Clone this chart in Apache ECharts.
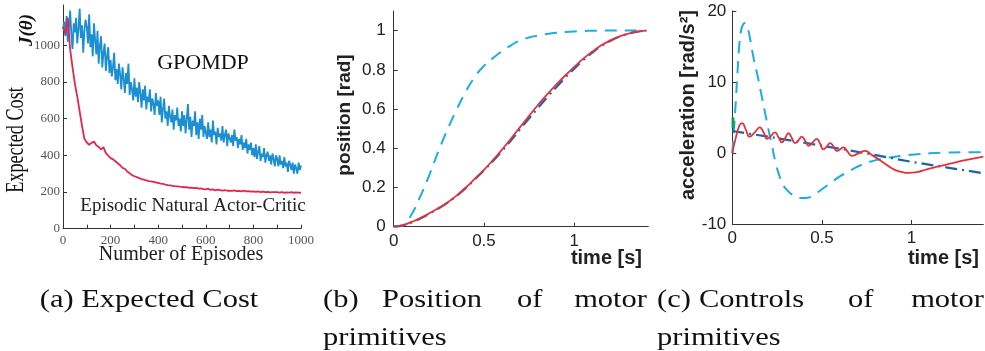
<!DOCTYPE html>
<html>
<head>
<meta charset="utf-8">
<script src="https://cdn.jsdelivr.net/npm/echarts@6/dist/echarts.min.js"></script>
<style>
  html, body { margin: 0; padding: 0; background: #fff; }
  #main { width: 985px; height: 351px; }
</style>
</head>
<body>
<div id="main"></div>
<script>
// (a) expected cost, GPOMDP sampled every 5 episodes, eNAC every 10
var gpomdpStep = 5;
var gpomdpCost = [
  1090,1130,1050,1160,1020,1100,1190,1060,980,1120,1070,1150,1010,1090,1200,1040,1110,960,1080,1140,
  1100,1010,1170,990,1060,940,1120,1030,950,1080,900,1000,1050,880,960,1010,860,940,990,850,
  920,830,880,960,810,870,790,900,840,760,880,820,740,850,790,900,730,800,760,700,
  820,720,770,690,800,740,660,760,700,780,650,720,690,760,640,710,680,620,740,670,
  700,620,720,580,650,710,600,640,560,670,610,580,650,540,620,590,660,560,600,530,
  640,560,620,520,600,680,540,610,500,590,560,640,510,580,490,600,540,620,500,560,
  560,490,580,500,540,470,590,510,530,460,550,500,520,480,560,470,510,540,450,520,
  530,470,510,450,540,480,500,440,490,460,510,430,470,440,490,410,460,430,470,400,
  440,390,460,380,420,450,370,410,390,440,360,400,420,370,400,350,410,380,340,400,
  380,340,400,350,370,330,390,340,360,310,370,350,320,360,300,350,330,300,360,320,345
];
var enacStep = 10;
var enacCost = [
  1100,1060,1150,980,880,790,720,640,560,490,
  470,458,468,476,455,446,432,445,412,398,
  385,378,368,357,346,332,327,312,302,292,
  286,281,276,271,268,263,260,258,255,252,
  250,246,245,241,238,236,234,232,231,229,
  228,226,227,223,224,221,222,219,220,216,
  215,218,212,214,209,213,210,208,211,207,
  208,206,209,205,206,204,207,203,205,202,
  204,201,203,200,202,199,201,198,200,199,
  199,197,200,196,198,197,199,196,198,197,196
];
var costTicks = [0,200,400,600,800,1000];

// (b) position of motor primitives
var tPos = [0,0.05,0.1,0.15,0.2,0.25,0.3,0.35,0.4,0.45,0.5,0.55,0.6,0.65,0.7,0.75,0.8,0.85,0.9,0.95,1.0,1.05,1.1,1.15,1.2,1.25,1.3,1.35,1.4];
var posFast = [0,0.005,0.065,0.16,0.27,0.39,0.5,0.6,0.69,0.765,0.82,0.86,0.895,0.925,0.95,0.965,0.975,0.983,0.989,0.993,0.996,0.998,0.999,1,1,1,1,1,1];
var posLinear = [0,0.006,0.022,0.043,0.068,0.094,0.124,0.158,0.198,0.242,0.287,0.335,0.386,0.44,0.497,0.553,0.607,0.66,0.711,0.76,0.806,0.85,0.888,0.921,0.948,0.969,0.984,0.994,1.0];
var posLearned = [0,0.008,0.025,0.045,0.07,0.095,0.125,0.16,0.2,0.245,0.29,0.34,0.393,0.45,0.508,0.565,0.622,0.675,0.724,0.771,0.815,0.857,0.893,0.925,0.95,0.97,0.985,0.995,1.0];

// (c) controls of motor primitives
var tAccFast = [0,0.01,0.02,0.03,0.04,0.05,0.06,0.07,0.08,0.09,0.1,0.12,0.14,0.16,0.18,0.2,0.22,0.24,0.26,0.28,0.3,0.33,0.36,0.39,0.42,0.45,0.5,0.55,0.6,0.65,0.7,0.75,0.8,0.85,0.9,0.95,1.0,1.1,1.2,1.3,1.4];
var accFast = [0,3.5,7.5,11.8,15.5,17.4,18.1,18.3,18.1,17.2,16.0,13.2,11.0,8.5,6.0,3.5,1.2,-1.2,-3.0,-4.3,-5.1,-5.8,-6.2,-6.35,-6.3,-6.0,-5.1,-4.2,-3.3,-2.6,-1.9,-1.4,-1.0,-0.75,-0.55,-0.38,-0.25,-0.05,0.05,0.1,0.1];
var tAccLinear = [0,0.2,0.4,0.6,0.8,1.0,1.2,1.4];
var accLinear = [3.1,2.3,1.45,0.6,-0.3,-1.25,-2.05,-2.85];
var tAccLearned = [0,0.02,0.04,0.055,0.075,0.097,0.125,0.153,0.175,0.194,0.215,0.238,0.258,0.276,0.295,0.313,0.332,0.35,0.37,0.387,0.407,0.426,0.448,0.471,0.49,0.508,0.527,0.545,0.565,0.583,0.6,0.62,0.643,0.666,0.7,0.74,0.78,0.84,0.9,0.95,0.98,1.03,1.085,1.15,1.215,1.3,1.4];
var accLearned = [0,2.2,3.9,4.2,3.3,2.3,2.9,3.6,2.9,2.0,2.4,2.9,2.2,1.5,2.1,2.8,2.1,1.4,1.8,2.3,1.7,1.0,1.5,2.0,1.3,0.5,0.9,1.4,0.9,0.3,0.5,0.8,0.2,-0.4,-0.1,0.3,-0.3,-1.3,-2.3,-2.7,-2.8,-2.7,-2.3,-1.9,-1.5,-1.0,-0.5];
var tStart = [0.004,0.004];
var accStart = [3.5,5];

function pairs(xs, ys) {
  var out = [];
  for (var i = 0; i < ys.length; i++) out.push([xs[i], ys[i]]);
  return out;
}
function stepPairs(step, ys) {
  var out = [];
  for (var i = 0; i < ys.length; i++) out.push([i * step, ys[i]]);
  return out;
}

var serif = 'Liberation Serif';
var sans = 'Liberation Sans';
var axisLine = { show: true, onZero: false, lineStyle: { color: '#333', width: 1 } };
var tick = { inside: true, length: 4, lineStyle: { color: '#333' } };

function caption(text, x, y, align) {
  return { type: 'text', x: x, y: y, scaleX: 1.22,
    style: { text: text, font: '25px ' + serif, fill: '#111', align: align, verticalAlign: 'middle' } };
}

var chart = echarts.init(document.getElementById('main'));
chart.setOption({
  animation: false,
  backgroundColor: '#fff',
  grid: [
    { left: 63, top: 5, width: 238, height: 223.7 },
    { left: 393.7, top: 11, width: 254.6, height: 215.7 },
    { left: 732.3, top: 11, width: 251, height: 213 }
  ],
  xAxis: [
    {
      gridIndex: 0, type: 'value', min: 0, max: 1000, interval: 100,
      axisLine: axisLine, splitLine: { show: false }, axisTick: tick,
      axisLabel: { margin: 5, fontFamily: serif, fontSize: 13, color: '#555',
        formatter: function (v) { return v % 200 === 0 ? String(v) : ''; } }
    },
    {
      gridIndex: 1, type: 'value', min: 0, max: 1.41, interval: 0.5,
      axisLine: axisLine, splitLine: { show: false }, axisTick: tick,
      axisLabel: { margin: 6, fontFamily: sans, fontSize: 17, color: '#222', showMaxLabel: false }
    },
    {
      gridIndex: 2, type: 'value', min: 0, max: 1.4, interval: 0.5,
      axisLine: axisLine, splitLine: { show: false }, axisTick: tick,
      axisLabel: { margin: 6, fontFamily: sans, fontSize: 17, color: '#222', showMaxLabel: false }
    }
  ],
  yAxis: [
    {
      gridIndex: 0, type: 'value', min: 0, max: 1220, interval: 200,
      axisLine: axisLine, splitLine: { show: false },
      axisTick: { inside: true, length: 4, customValues: costTicks, lineStyle: { color: '#333' } },
      axisLabel: { margin: 3, fontFamily: serif, fontSize: 13, color: '#555', customValues: costTicks,
        formatter: function (v) { return v <= 1000 ? String(v) : ''; } }
    },
    {
      gridIndex: 1, type: 'value', min: 0, max: 1.1, interval: 0.2,
      axisLine: axisLine, splitLine: { show: false }, axisTick: tick,
      axisLabel: { margin: 8, fontFamily: sans, fontSize: 17, color: '#222', showMaxLabel: false }
    },
    {
      gridIndex: 2, type: 'value', min: -10, max: 20, interval: 10,
      axisLine: axisLine, splitLine: { show: false }, axisTick: tick,
      axisLabel: { margin: 6, fontFamily: sans, fontSize: 17, color: '#222' }
    }
  ],
  series: [
    { type: 'line', xAxisIndex: 0, yAxisIndex: 0, showSymbol: false,
      lineStyle: { color: '#1b8fd2', width: 1.8 }, data: stepPairs(gpomdpStep, gpomdpCost) },
    { type: 'line', xAxisIndex: 0, yAxisIndex: 0, showSymbol: false,
      lineStyle: { color: '#e5254e', width: 1.8 }, data: stepPairs(enacStep, enacCost) },

    { type: 'line', xAxisIndex: 1, yAxisIndex: 1, showSymbol: false, smooth: true,
      lineStyle: { color: '#1aaee5', width: 2, type: [12, 8] }, data: pairs(tPos, posFast) },
    { type: 'line', xAxisIndex: 1, yAxisIndex: 1, showSymbol: false, smooth: true,
      lineStyle: { color: '#1c63ad', width: 2.2, type: [12, 5, 2, 5] }, data: pairs(tPos, posLinear) },
    { type: 'line', xAxisIndex: 1, yAxisIndex: 1, showSymbol: false, smooth: true,
      lineStyle: { color: '#e8303a', width: 1.8 }, data: pairs(tPos, posLearned) },

    { type: 'line', xAxisIndex: 2, yAxisIndex: 2, showSymbol: false, smooth: true,
      lineStyle: { color: '#1aaee5', width: 2, type: [12, 8] }, data: pairs(tAccFast, accFast) },
    { type: 'line', xAxisIndex: 2, yAxisIndex: 2, showSymbol: false,
      lineStyle: { color: '#1c63ad', width: 2.2, type: [12, 5, 2, 5] }, data: pairs(tAccLinear, accLinear) },
    { type: 'line', xAxisIndex: 2, yAxisIndex: 2, showSymbol: false, smooth: true,
      lineStyle: { color: '#e8303a', width: 1.8 }, data: pairs(tAccLearned, accLearned) },
    { type: 'line', xAxisIndex: 2, yAxisIndex: 2, showSymbol: false,
      lineStyle: { color: '#1a9a5a', width: 3 }, data: pairs(tStart, accStart) }
  ],
  graphic: [
    // panel (a) texts
    { type: 'text', x: 16, y: 140, rotation: Math.PI / 2, scaleX: 0.7,
      style: { text: 'Expected Cost', font: '26px ' + serif, fill: '#111', align: 'center', verticalAlign: 'middle' } },
    { type: 'text', x: 27, y: 30, rotation: Math.PI / 2,
      style: { text: 'J(θ)', font: 'italic bold 19px ' + serif, fill: '#111', align: 'center', verticalAlign: 'middle' } },
    { type: 'text', x: 181, y: 255,
      style: { text: 'Number of Episodes', font: '20px ' + serif, fill: '#222', align: 'center', verticalAlign: 'middle' } },
    { type: 'text', x: 203, y: 63,
      style: { text: 'GPOMDP', font: '22px ' + serif, fill: '#111', align: 'center', verticalAlign: 'middle' } },
    { type: 'text', x: 193, y: 206,
      style: { text: 'Episodic Natural Actor-Critic', font: '19px ' + serif, fill: '#222', align: 'center', verticalAlign: 'middle' } },

    // panel (b) texts
    { type: 'text', x: 345, y: 115, rotation: Math.PI / 2,
      style: { text: 'position [rad]', font: 'bold 19px ' + sans, fill: '#222', align: 'center', verticalAlign: 'middle' } },
    { type: 'text', x: 642, y: 258,
      style: { text: 'time [s]', font: 'bold 20px ' + sans, fill: '#222', align: 'right', verticalAlign: 'middle' } },

    // panel (c) texts
    { type: 'text', x: 688, y: 105, rotation: Math.PI / 2,
      style: { text: 'acceleration [rad/s²]', font: 'bold 20px ' + sans, fill: '#222', align: 'center', verticalAlign: 'middle' } },
    { type: 'text', x: 979, y: 258,
      style: { text: 'time [s]', font: 'bold 20px ' + sans, fill: '#222', align: 'right', verticalAlign: 'middle' } },

    // captions
    caption('(a) Expected Cost', 149, 300, 'center'),
    caption('(b)', 323, 300, 'left'),
    caption('Position', 382, 300, 'left'),
    caption('of', 517, 300, 'left'),
    caption('motor', 647, 300, 'right'),
    caption('primitives', 323, 338, 'left'),
    caption('(c)', 657, 300, 'left'),
    caption('Controls', 699, 300, 'left'),
    caption('of', 848, 300, 'left'),
    caption('motor', 984, 300, 'right'),
    caption('primitives', 657, 338, 'left')
  ]
});
</script>
</body>
</html>
